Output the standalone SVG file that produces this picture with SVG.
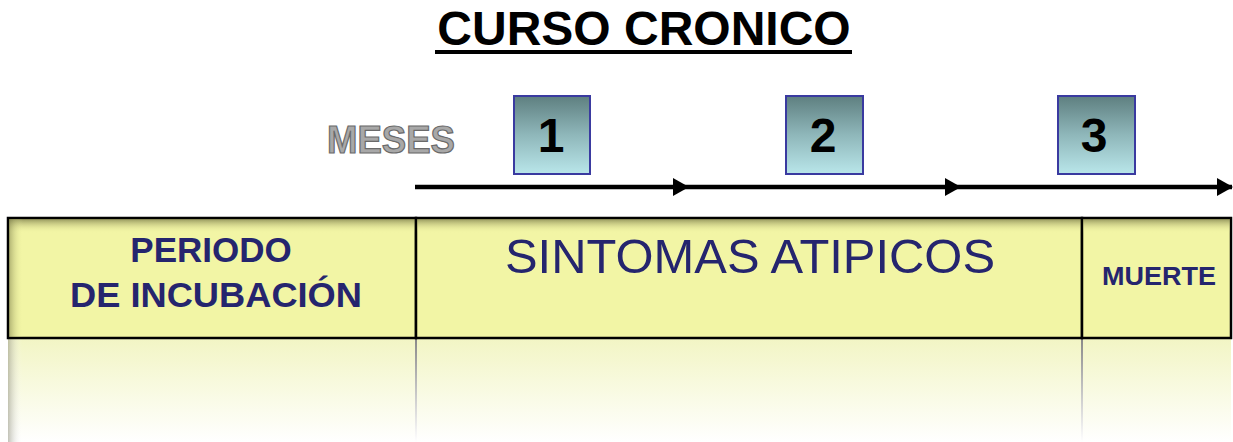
<svg xmlns="http://www.w3.org/2000/svg" width="1233" height="442" viewBox="0 0 1233 442">
<defs>
  <linearGradient id="boxGrad" x1="0" y1="0" x2="0" y2="1">
    <stop offset="0" stop-color="#5e7f80"/>
    <stop offset="0.5" stop-color="#8fb7ba"/>
    <stop offset="1" stop-color="#b9e6ea"/>
  </linearGradient>
  <linearGradient id="topShade" x1="0" y1="0" x2="0" y2="1">
    <stop offset="0" stop-color="#6f7040" stop-opacity="0.7"/>
    <stop offset="1" stop-color="#f2f5a5" stop-opacity="0"/>
  </linearGradient>
  <linearGradient id="leftShade" x1="0" y1="0" x2="1" y2="0">
    <stop offset="0" stop-color="#6f7040" stop-opacity="0.5"/>
    <stop offset="1" stop-color="#f2f5a5" stop-opacity="0"/>
  </linearGradient>
  <linearGradient id="reflect" x1="0" y1="0" x2="0" y2="1">
    <stop offset="0" stop-color="#f2f5c4"/>
    <stop offset="1" stop-color="#ffffff"/>
  </linearGradient>
  <linearGradient id="reflLine" x1="0" y1="0" x2="0" y2="1">
    <stop offset="0" stop-color="#888888"/>
    <stop offset="1" stop-color="#ffffff"/>
  </linearGradient>
  <linearGradient id="reflLeft" x1="0" y1="0" x2="1" y2="0">
    <stop offset="0" stop-color="#9a9a8a" stop-opacity="0.6"/>
    <stop offset="1" stop-color="#ffffff" stop-opacity="0"/>
  </linearGradient>
  <marker id="arr" markerWidth="16" markerHeight="18" refX="15" refY="9" orient="auto" markerUnits="userSpaceOnUse">
    <path d="M0,0 L16,9 L0,18 Z" fill="#000"/>
  </marker>
</defs>
<style>
  .title{font-family:"Liberation Sans",Arial,sans-serif;font-weight:bold;font-size:48px;fill:#000}
  .meses{font-family:"Liberation Sans",Arial,sans-serif;font-weight:bold;font-size:38px;fill:#a8a8a8;stroke:#6a6a6a;stroke-width:1.2}
  .box{fill:url(#boxGrad);stroke:#3a3aa0;stroke-width:2}
  .num{font-family:"Liberation Sans",Arial,sans-serif;font-weight:bold;font-size:48px;fill:#000;text-anchor:middle}
  .lbl{font-family:"Liberation Sans",Arial,sans-serif;fill:#25256e;text-anchor:middle}
  .cell{fill:#f2f5a5;stroke:#000;stroke-width:2.5}
  .conn{stroke:#000;stroke-width:4.5;fill:none}
</style>

<rect width="1233" height="442" fill="#fff"/>

<g id="title">
  <text class="title" x="644" y="45" text-anchor="middle">CURSO CRONICO</text>
  <rect x="435" y="50" width="417" height="4" fill="#000"/>
</g>

<g id="meses">
  <text class="meses" x="327" y="153" textLength="128" lengthAdjust="spacingAndGlyphs">MESES</text>
</g>

<g id="box1">
  <rect class="box" x="514" y="96" width="76" height="78"/>
  <text class="num" x="551" y="152">1</text>
</g>
<g id="box2">
  <rect class="box" x="786" y="96" width="77" height="78"/>
  <text class="num" x="823" y="152">2</text>
</g>
<g id="box3">
  <rect class="box" x="1058" y="96" width="77" height="78"/>
  <text class="num" x="1094" y="152">3</text>
</g>

<g id="connectors">
  <line class="conn" x1="415" y1="187" x2="688" y2="187" marker-end="url(#arr)"/>
  <line class="conn" x1="688" y1="187" x2="960" y2="187" marker-end="url(#arr)"/>
  <line class="conn" x1="960" y1="187" x2="1232" y2="187" marker-end="url(#arr)"/>
</g>

<g id="reflection">
  <rect x="8" y="338" width="1223" height="104" fill="url(#reflect)"/>
  <rect x="8" y="338" width="14" height="104" fill="url(#reflLeft)"/>
  <rect x="415" y="338" width="2" height="104" fill="url(#reflLine)"/>
  <rect x="1081" y="338" width="2" height="104" fill="url(#reflLine)"/>
</g>

<g id="periodo">
  <rect class="cell" x="8" y="218" width="408" height="120"/>
  <rect x="9" y="219" width="406" height="14" fill="url(#topShade)"/>
  <rect x="9" y="219" width="14" height="118" fill="url(#leftShade)"/>
  <text class="lbl" x="211" y="262" font-size="35" font-weight="bold">PERIODO</text>
  <text class="lbl" x="216" y="307" font-size="35" font-weight="bold" textLength="292" lengthAdjust="spacingAndGlyphs">DE INCUBACIÓN</text>
</g>

<g id="sintomas">
  <rect class="cell" x="416" y="218" width="666" height="120"/>
  <rect x="417" y="219" width="664" height="14" fill="url(#topShade)"/>
  <text class="lbl" x="750" y="273" font-size="48" textLength="490" lengthAdjust="spacingAndGlyphs">SINTOMAS ATIPICOS</text>
</g>

<g id="muerte">
  <rect class="cell" x="1082" y="218" width="149" height="120"/>
  <rect x="1083" y="219" width="147" height="14" fill="url(#topShade)"/>
  <text class="lbl" x="1159" y="285" font-size="25" font-weight="bold" textLength="114" lengthAdjust="spacingAndGlyphs">MUERTE</text>
</g>
</svg>
